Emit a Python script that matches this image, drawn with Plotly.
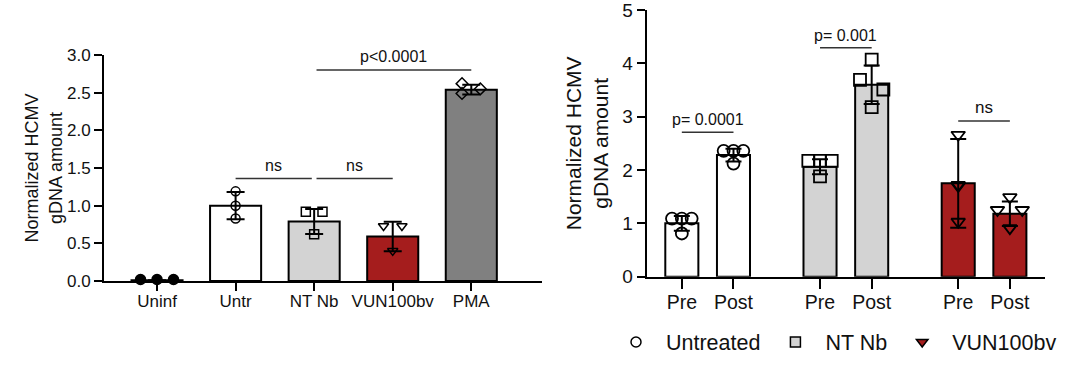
import plotly.graph_objects as go

# ---------------- data: left panel ----------------
left_categories = ["Uninf", "Untr", "NT Nb", "VUN100bv", "PMA"]
left_means = [0.01, 1.00, 0.79, 0.59, 2.54]
left_sd = [0.0, 0.18, 0.165, 0.195, 0.065]
left_points = [
    [0.02, 0.02, 0.02],
    [1.19, 1.00, 0.83],
    [0.92, 0.92, 0.62],
    [0.73, 0.73, 0.40],
    [2.62, 2.49, 2.55],
]
left_yticks = [0.0, 0.5, 1.0, 1.5, 2.0, 2.5, 3.0]

# ---------------- data: right panel ----------------
right_groups = ["Untreated", "NT Nb", "VUN100bv"]
right_timepoints = ["Pre", "Post"]
right_means = [[1.00, 2.28], [2.06, 3.60], [1.75, 1.18]]
right_sd = [[0.14, 0.12], [0.14, 0.36], [0.83, 0.23]]
right_points = [
    [[1.09, 1.09, 1.09, 0.81], [2.36, 2.36, 2.36, 2.12]],
    [[2.17, 2.17, 2.17, 1.88], [3.69, 4.07, 3.51, 3.18]],
    [[2.66, 1.72, 1.70, 1.03], [1.25, 1.49, 1.25, 0.91]],
]
right_yticks = [0, 1, 2, 3, 4, 5]

# ---------------- styles ----------------
FONT = "Arial, Liberation Sans, sans-serif"
RED = "#a51d1d"
LGRAY = "#d3d3d3"
DGRAY = "#808080"
left_colors = ["#ffffff", "#ffffff", LGRAY, RED, DGRAY]
left_symbols = ["circle", "circle-open", "square-open", "triangle-down-open", "diamond-open"]
left_offsets = [
    [-0.21, 0.0, 0.21],
    [0.0, 0.0, 0.0],
    [-0.106, 0.106, 0.0],
    [-0.117, 0.117, 0.0],
    [-0.118, -0.118, 0.115],
]
right_colors = ["#ffffff", LGRAY, RED]
right_symbols = ["circle-open", "square-open", "triangle-down-open"]
right_offsets = [
    [[-0.19, 0.0, 0.19, 0.0], [-0.19, 0.0, 0.19, 0.0]],
    [[-0.226, 0.0, 0.226, 0.0], [-0.226, 0.0, 0.226, 0.0]],
    [[0.0, 0.0, 0.0, 0.0], [-0.24, 0.0, 0.24, 0.0]],
]
GROUP_GAP = 2.675

fig = go.Figure()

# ---- left bars ----
left_x = list(range(len(left_categories)))
fig.add_trace(go.Bar(
    x=left_x, y=left_means, width=0.65,
    marker=dict(color=left_colors, line=dict(color="black", width=2)),
    error_y=dict(type="data", array=left_sd, visible=True, color="black", thickness=2, width=9),
    xaxis="x", yaxis="y", showlegend=False,
))
for i, pts in enumerate(left_points):
    fig.add_trace(go.Scatter(
        x=[i + o for o in left_offsets[i]], y=pts, mode="markers",
        marker=dict(symbol=left_symbols[i], size=10 if i == 0 else 9,
                    color="black", line=dict(color="black", width=1.5)),
        cliponaxis=False, xaxis="x", yaxis="y", showlegend=False,
    ))

# ---- right bars ----
rx, ry, rsd, rcol, rtick = [], [], [], [], []
for g in range(len(right_groups)):
    for j in range(len(right_timepoints)):
        rx.append(g * GROUP_GAP + j)
        ry.append(right_means[g][j])
        rsd.append(right_sd[g][j])
        rcol.append(right_colors[g])
        rtick.append(right_timepoints[j])
fig.add_trace(go.Bar(
    x=rx, y=ry, width=0.64,
    marker=dict(color=rcol, line=dict(color="black", width=2)),
    error_y=dict(type="data", array=rsd, visible=True, color="black", thickness=2, width=8),
    xaxis="x2", yaxis="y2", showlegend=False,
))
for g in range(len(right_groups)):
    for j in range(len(right_timepoints)):
        base = g * GROUP_GAP + j
        fig.add_trace(go.Scatter(
            x=[base + o for o in right_offsets[g][j]], y=right_points[g][j], mode="markers",
            marker=dict(symbol=right_symbols[g], size=12, color="black",
                        line=dict(color="black", width=1.8)),
            cliponaxis=False, xaxis="x2", yaxis="y2", showlegend=False,
        ))

# ---- legend entries ----
legend_symbols = ["circle", "square", "triangle-down"]
for g, name in enumerate(right_groups):
    fig.add_trace(go.Scatter(
        x=[None], y=[None], mode="markers", name=name,
        marker=dict(symbol=legend_symbols[g], size=10, color=right_colors[g],
                    line=dict(color="black", width=1.5)),
        xaxis="x2", yaxis="y2", showlegend=True,
    ))

# ---- significance brackets ----
shapes = []
annotations = []
left_sig = [(1.0, 1.97, 1.36, "ns"), (2.03, 3.0, 1.36, "ns"), (2.03, 4.0, 2.80, "p<0.0001")]
for x0, x1, yv, txt in left_sig:
    shapes.append(dict(type="line", xref="x", yref="y", x0=x0, x1=x1, y0=yv, y1=yv,
                       line=dict(color="#333", width=1.5)))
    annotations.append(dict(xref="x", yref="y", x=(x0 + x1) / 2, y=yv, yshift=3, text=txt,
                            showarrow=False, yanchor="bottom",
                            font=dict(family=FONT, size=16, color="#111")))
right_sig = [(0, 1, 2.71, "p= 0.0001"), (GROUP_GAP, GROUP_GAP + 1, 4.29, "p= 0.001"),
             (2 * GROUP_GAP, 2 * GROUP_GAP + 1, 2.92, "ns")]
for x0, x1, yv, txt in right_sig:
    shapes.append(dict(type="line", xref="x2", yref="y2", x0=x0, x1=x1, y0=yv, y1=yv,
                       line=dict(color="#333", width=1.5)))
    annotations.append(dict(xref="x2", yref="y2", x=(x0 + x1) / 2, y=yv, yshift=2, text=txt,
                            showarrow=False, yanchor="bottom",
                            font=dict(family=FONT, size=17 if txt == "ns" else 16, color="#111")))

W, H = 1080, 366
axis_common = dict(showline=True, linecolor="black", linewidth=2, ticks="outside",
                   tickcolor="black", tickwidth=2, showgrid=False, zeroline=False,
                   automargin=False, ticklabeloverflow="allow")

fig.update_layout(
    width=W, height=H,
    margin=dict(l=0, r=0, t=0, b=0, autoexpand=False),
    paper_bgcolor="white", plot_bgcolor="white",
    font=dict(family=FONT, color="#111"),
    barmode="overlay",
    xaxis=dict(domain=[104 / W, 542 / W], range=[-0.675, 4.9], tickvals=left_x,
               ticktext=left_categories, ticklen=8, anchor="y", ticklabelstandoff=-4,
               tickfont=dict(size=17, family=FONT, color="#111"), **axis_common),
    yaxis=dict(domain=[(H - 281) / H, (H - 55) / H], range=[0, 3.0], tickvals=left_yticks,
               tickformat=".1f", ticklen=8, anchor="x",
               tickfont=dict(size=17, family=FONT, color="#111"),
               title=dict(text="Normalized HCMV<br>gDNA amount", standoff=0,
                          font=dict(size=18, family=FONT, color="#111")),
               **axis_common),
    xaxis2=dict(domain=[646.7 / W, 1045 / W], range=[-0.68, 7.03], tickvals=rx,
                ticktext=rtick, ticklen=10, anchor="y2", ticklabelstandoff=-3,
                tickfont=dict(size=19.5, family=FONT, color="#111"), **axis_common),
    yaxis2=dict(domain=[(H - 276.7) / H, (H - 10) / H], range=[0, 5], tickvals=right_yticks,
                ticklen=8, anchor="x2",
                tickfont=dict(size=19, family=FONT, color="#111"),
                title=dict(text="Normalized HCMV<br>gDNA amount", standoff=8,
                           font=dict(size=21, family=FONT, color="#111")),
                **axis_common),
    legend=dict(orientation="h", x=606 / W, y=(H - 342) / H, xanchor="left", yanchor="middle",
                itemwidth=50, font=dict(size=21.5, family=FONT, color="#111"),
                bgcolor="rgba(0,0,0,0)"),
    shapes=shapes,
    annotations=annotations,
)

fig.write_html(
    "out.html",
    config={"displayModeBar": False},
    post_script="document.body.style.margin='0';document.body.style.overflow='hidden';",
)
